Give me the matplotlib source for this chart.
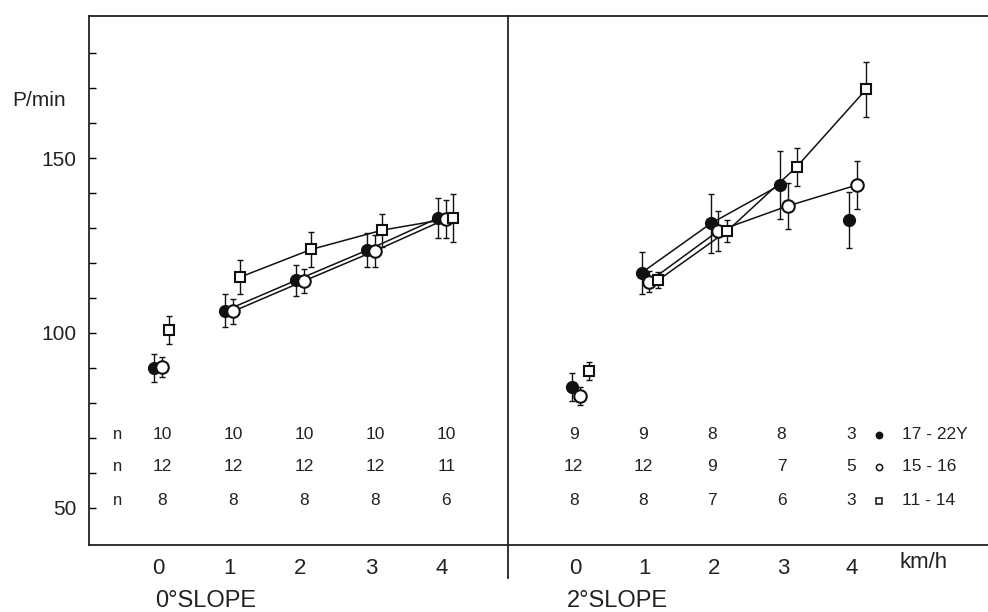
import matplotlib
matplotlib.use("Agg")
import matplotlib.pyplot as plt
from matplotlib.lines import Line2D
from matplotlib import font_manager

# ---------------- data ----------------
speeds = [0, 1, 2, 3, 4]
speed_labels = ["0", "1", "2", "3", "4"]
groups = ["17 - 22Y", "15 - 16", "11 - 14"]

flat_mean_17_22 = [90.0, 106.4, 115.1, 123.7, 132.9]
flat_sd_17_22 = [4.1, 4.7, 4.4, 4.9, 5.7]
flat_mean_15_16 = [90.3, 106.2, 114.9, 123.5, 132.6]
flat_sd_15_16 = [2.9, 3.6, 3.4, 4.5, 5.5]
flat_mean_11_14 = [100.9, 116.0, 123.9, 129.4, 132.9]
flat_sd_11_14 = [4.0, 5.0, 5.0, 4.7, 6.9]

slope_mean_17_22 = [84.7, 117.2, 131.3, 142.3, 132.3]
slope_sd_17_22 = [4.0, 6.0, 8.4, 9.8, 7.9]
slope_mean_15_16 = [82.0, 114.7, 129.2, 136.3, 142.3]
slope_sd_15_16 = [2.5, 3.0, 5.7, 6.6, 6.8]
slope_mean_11_14 = [89.2, 115.1, 129.2, 147.5, 169.6]
slope_sd_11_14 = [2.6, 2.3, 3.2, 5.5, 7.8]

flat_n_17_22 = [10, 10, 10, 10, 10]
flat_n_15_16 = [12, 12, 12, 12, 11]
flat_n_11_14 = [8, 8, 8, 8, 6]
slope_n_17_22 = [9, 9, 8, 8, 3]
slope_n_15_16 = [12, 12, 9, 7, 5]
slope_n_11_14 = [8, 8, 7, 6, 3]

y_major = [50, 100, 150]
y_minor = [60, 70, 80, 90, 110, 120, 130, 140, 160, 170, 180]

# ---------------- style ----------------
names = {f.name for f in font_manager.fontManager.ttflist}
FONT = "Liberation Sans" if "Liberation Sans" in names else "DejaVu Sans"
INK = "#222222"

W, H = 988, 612
fig = plt.figure(figsize=(W / 100, H / 100), dpi=100)
top_px, bot_px, left_px, mid_px = 16, 545, 89, 508
ax1 = fig.add_axes([left_px / W, 1 - bot_px / H, (mid_px - left_px) / W, (bot_px - top_px) / H])
ax2 = fig.add_axes([mid_px / W, 1 - bot_px / H, (W - mid_px) / W, (bot_px - top_px) / H])
ax2.patch.set_visible(False)

ylim = (39.4, 190.6)
ax1.set_xlim(-(158 - left_px) / 71.0, (mid_px - 158) / 71.0)
ax2.set_xlim(-0.967, 5.96)
for ax in (ax1, ax2):
    ax.set_ylim(*ylim)
    for s in ax.spines.values():
        s.set_linewidth(1.3)
        s.set_color(INK)
    ax.set_xticks(speeds)
    ax.set_xticklabels(speed_labels, fontsize=16, family=FONT, color=INK)
    ax.tick_params(axis="x", length=0, pad=9)
ax2.spines["left"].set_visible(False)
ax2.spines["right"].set_visible(False)
ax2.set_yticks([])

ax1.set_yticks(y_major)
ax1.set_yticklabels([str(v) for v in y_major], fontsize=15, family=FONT, color=INK)
ax1.set_yticks(y_minor, minor=True)
ax1.tick_params(axis="y", which="both", direction="in", length=5, width=1, pad=9)

markers = [
    dict(marker="o", mfc="#111111", mec="#111111", ms=8),
    dict(marker="o", mfc="white", mec="#111111", ms=9),
    dict(marker="s", mfc="white", mec="#111111", ms=7),
]

panels = [
    (ax1, [flat_mean_17_22, flat_mean_15_16, flat_mean_11_14],
     [flat_sd_17_22, flat_sd_15_16, flat_sd_11_14],
     [flat_n_17_22, flat_n_15_16, flat_n_11_14],
     [-0.05, 0.06, 0.16], [(1, 5), (1, 5), (1, 5)]),
    (ax2, [slope_mean_17_22, slope_mean_15_16, slope_mean_11_14],
     [slope_sd_17_22, slope_sd_15_16, slope_sd_11_14],
     [slope_n_17_22, slope_n_15_16, slope_n_11_14],
     [-0.04, 0.07, 0.2], [(1, 4), (1, 5), (1, 5)]),
]

for ax, means, sds, ns, offs, segs in panels:
    for k in range(3):
        xs = [s + offs[k] for s in speeds]
        a, b = segs[k]
        ax.plot(xs[a:b], means[k][a:b], color="#111111", lw=1.1, zorder=2)
    for k in range(3):
        xs = [s + offs[k] for s in speeds]
        ax.errorbar(xs, means[k], yerr=sds[k], fmt="none", ecolor="#111111",
                    elinewidth=1.0, capsize=2, capthick=1.0, zorder=3)
        ax.plot(xs, means[k], ls="none", mew=1.5, zorder=4, **markers[k])

# n tables
row_y = [70.9, 61.7, 52.0]
for k in range(3):
    ax1.text(-0.57, row_y[k], "n", fontsize=12, family=FONT, ha="center", va="center", color=INK)
    for i, s in enumerate(speeds):
        ax1.text(s + 0.06, row_y[k], str(panels[0][3][k][i]), fontsize=12.5, family=FONT,
                 ha="center", va="center", color=INK)
        ax2.text(s - 0.02, row_y[k], str(panels[1][3][k][i]), fontsize=12.5, family=FONT,
                 ha="center", va="center", color=INK)
    lm = dict(markers[k])
    lm["ms"] = 4.5
    ax2.plot([4.38], [row_y[k]], ls="none", mew=1.1, **lm)
    ax2.text(4.72, row_y[k], groups[k], fontsize=12.5, family=FONT, ha="left", va="center", color=INK)

# labels
fig.text(12 / W, 1 - 100 / H, "P/min", fontsize=15, family=FONT, ha="left", va="center", color=INK)
fig.text(206 / W, 1 - 601 / H, "0°SLOPE", fontsize=17, family=FONT, ha="center", va="center", color=INK)
fig.text(617 / W, 1 - 601 / H, "2°SLOPE", fontsize=17, family=FONT, ha="center", va="center", color=INK)
fig.text(924 / W, 1 - 563 / H, "km/h", fontsize=16, family=FONT, ha="center", va="center", color=INK)

fig.add_artist(Line2D([mid_px / W, mid_px / W], [1 - bot_px / H, 1 - 578 / H],
                      transform=fig.transFigure, color=INK, lw=1.3))

fig.savefig("out.png", dpi=100)
